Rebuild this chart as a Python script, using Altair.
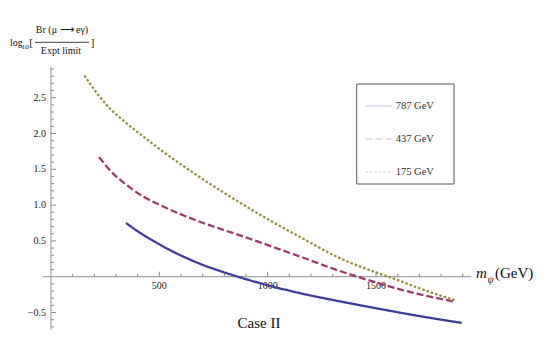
import altair as alt
import pandas as pd

# ---- data ----
series = ["787 GeV", "437 GeV", "175 GeV"]
colors = ["#3d3d99", "#993d71", "#998c3d"]
dashes = [[1, 0], [7, 3], [2.5, 2]]

blue_m = [346, 400, 472, 550, 626, 700, 780, 895, 995, 1149, 1300, 1420, 1526, 1700, 1895]
blue_v = [0.75, 0.635, 0.50, 0.37, 0.26, 0.165, 0.08, -0.03, -0.115, -0.23, -0.325, -0.395, -0.455, -0.55, -0.645]

red_m = [222, 287, 349, 426, 518, 641, 795, 918, 1011, 1164, 1318, 1472, 1626, 1864]
red_v = [1.67, 1.44, 1.28, 1.12, 0.98, 0.82, 0.655, 0.53, 0.43, 0.265, 0.095, -0.055, -0.19, -0.35]

gold_m = [154, 218, 272, 334, 395, 457, 518, 587, 652, 826, 1011, 1164, 1318, 1472, 1580, 1703, 1864]
gold_v = [2.81, 2.54, 2.35, 2.18, 2.03, 1.885, 1.745, 1.595, 1.46, 1.12, 0.785, 0.53, 0.28, 0.09, -0.025, -0.165, -0.33]

x_major = [500, 1000, 1500]
x_minor = [100, 200, 300, 400, 600, 700, 800, 900, 1100, 1200, 1300, 1400, 1600, 1700, 1800, 1900]
y_major = [-0.5, 0.5, 1.0, 1.5, 2.0, 2.5]
y_minor = [-0.7, -0.6, -0.4, -0.3, -0.2, -0.1, 0.1, 0.2, 0.3, 0.4, 0.6, 0.7, 0.8, 0.9,
           1.1, 1.2, 1.3, 1.4, 1.6, 1.7, 1.8, 1.9, 2.1, 2.2, 2.3, 2.4, 2.6, 2.7, 2.8, 2.9]
x_axis_range = [-37, 1940]
y_axis_range = [-0.74, 2.93]

FONT = "Liberation Serif"
AXIS_COLOR = "#8c8c8c"

rows = []
for name, ms, vs in zip(series, [blue_m, red_m, gold_m], [blue_v, red_v, gold_v]):
    for i, (m, v) in enumerate(zip(ms, vs)):
        rows.append({"series": name, "m": m, "v": v, "i": i})
df = pd.DataFrame(rows)

xs = alt.Scale(domain=[-198.4, 2242.7], nice=False, zero=False)
ys = alt.Scale(domain=[-0.7444, 3.7528], nice=False, zero=False)

legend = alt.Legend(
    orient="none", legendX=348.7, legendY=76, title=None, padding=8,
    symbolType="stroke", symbolSize=700, symbolStrokeWidth=1, symbolOpacity=0.35,
    labelFont=FONT, labelFontSize=10.5, labelColor="#333333",
    rowPadding=13, labelOffset=3,
)

lines = alt.Chart(df).mark_line(strokeWidth=2.3, interpolate="monotone").encode(
    x=alt.X("m:Q", scale=xs, axis=None),
    y=alt.Y("v:Q", scale=ys, axis=None),
    color=alt.Color("series:N", scale=alt.Scale(domain=series, range=colors), legend=legend),
    strokeDash=alt.StrokeDash("series:N", scale=alt.Scale(domain=series, range=dashes), legend=legend),
    order="i:Q",
)

# legend frame
legend_box = alt.Chart(pd.DataFrame({"t": [0]})).mark_rect(
    fill="white", stroke="#555555", strokeWidth=1).encode(
    x=alt.value(348.7), x2=alt.value(446), y=alt.value(76), y2=alt.value(176))

# axes lines
xaxis = alt.Chart(pd.DataFrame({"a": [x_axis_range[0]], "b": [x_axis_range[1]], "z": [0]})).mark_rule(
    color=AXIS_COLOR, strokeWidth=1).encode(
    x=alt.X("a:Q", scale=xs, axis=None), x2="b:Q", y=alt.Y("z:Q", scale=ys, axis=None))
yaxis = alt.Chart(pd.DataFrame({"a": [y_axis_range[0]], "b": [y_axis_range[1]], "z": [0]})).mark_rule(
    color=AXIS_COLOR, strokeWidth=1).encode(
    y=alt.Y("a:Q", scale=ys, axis=None), y2="b:Q", x=alt.X("z:Q", scale=xs, axis=None))

def xticks(vals, length):
    d = pd.DataFrame({"t": vals, "z": [0] * len(vals)})
    return alt.Chart(d).mark_rule(color=AXIS_COLOR, strokeWidth=1, y2Offset=-length).encode(
        x=alt.X("t:Q", scale=xs, axis=None), y=alt.Y("z:Q", scale=ys, axis=None), y2="z:Q")

def yticks(vals, length):
    d = pd.DataFrame({"t": vals, "z": [0] * len(vals)})
    return alt.Chart(d).mark_rule(color=AXIS_COLOR, strokeWidth=1, x2Offset=length).encode(
        y=alt.Y("t:Q", scale=ys, axis=None), x=alt.X("z:Q", scale=xs, axis=None), x2="z:Q")

xlabels = alt.Chart(pd.DataFrame({"t": x_major, "z": [0] * len(x_major)})).mark_text(
    font=FONT, fontSize=10, color="#222222", dy=9, baseline="middle", align="center").encode(
    x=alt.X("t:Q", scale=xs, axis=None), y=alt.Y("z:Q", scale=ys, axis=None),
    text=alt.Text("t:Q", format="d"))
ylabels = alt.Chart(pd.DataFrame({"t": y_major, "z": [0] * len(y_major)})).mark_text(
    font=FONT, fontSize=10, color="#222222", dx=-5, baseline="middle", align="right").encode(
    y=alt.Y("t:Q", scale=ys, axis=None), x=alt.X("z:Q", scale=xs, axis=None),
    text=alt.Text("t:Q", format=".1f"))

def label(text, x, y, size=10, align="left", style="normal"):
    return alt.Chart(pd.DataFrame({"t": [text]})).mark_text(
        font=FONT, fontSize=size, color="#111111", align=align, baseline="alphabetic",
        fontStyle=style).encode(x=alt.value(x), y=alt.value(y), text="t:N")

frac_bar = alt.Chart(pd.DataFrame({"t": [0]})).mark_rule(color="#111111", strokeWidth=0.8).encode(
    x=alt.value(27), x2=alt.value(81), y=alt.value(34.3))

annotations = [
    label("log", 2, 38),
    label("10", 13.7, 41, size=7),
    label("[", 21.3, 38, size=11),
    label("Br (\u03bc \u27f6 e\u03b3)", 54, 25.3, align="center"),
    label("Expt limit", 53, 46, align="center"),
    label("]", 82.7, 38, size=11),
    label("Case II", 251, 320, size=15, align="center"),
    label("m", 468, 270, size=15, style="italic"),
    label("\u03c8", 479.5, 274.5, size=10, style="italic"),
    label("(GeV)", 487, 270, size=15),
]

chart = alt.layer(
    legend_box,
    xaxis, yaxis,
    xticks(x_minor, 3), xticks(x_major, 5),
    yticks(y_minor, 3), yticks(y_major, 5),
    xlabels, ylabels,
    lines,
    frac_bar, *annotations,
).properties(
    width=529, height=322, padding=0,
    autosize=alt.AutoSizeParams(type="none"),
).configure_view(stroke=None)

chart.save("out.html", embed_options={"renderer": "svg", "actions": False})
